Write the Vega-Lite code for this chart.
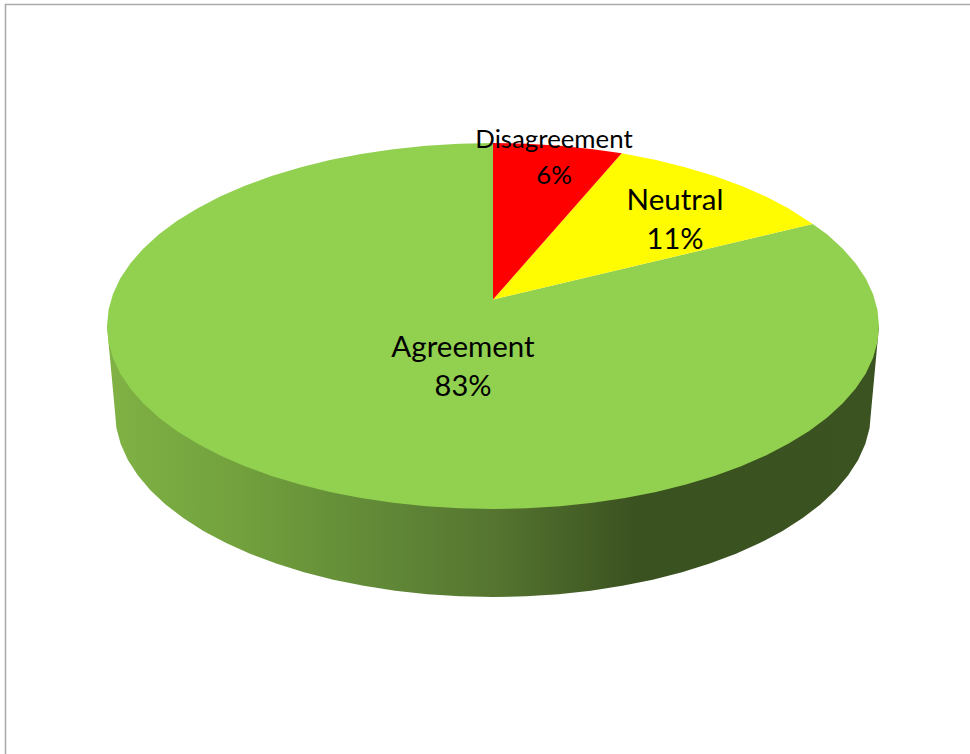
{
  "$schema": "https://vega.github.io/schema/vega-lite/v6.json",
  "width": 970,
  "height": 754,
  "padding": 0,
  "autosize": {"type": "none"},
  "background": "white",
  "config": {"view": {"stroke": null}},
  "datasets": {
    "slices": [
      {"slice": "Agreement", "share": 0.83, "cx": 463, "nameY": 357, "shareY": 396},
      {"slice": "Neutral", "share": 0.11, "cx": 675, "nameY": 210, "shareY": 249},
      {"slice": "Disagreement", "share": 0.06, "cx": 554, "nameY": 148, "shareY": 184}
    ],
    "outline": [
      {"part":"frame","seq":0,"x":5.5,"y":754},{"part":"frame","seq":1,"x":5.5,"y":4.5},{"part":"frame","seq":2,"x":970,"y":4.5},

      {"part":"side","seq":0,"x":107,"y":326},{"part":"side","seq":1,"x":115,"y":412},
      {"part":"side","seq":2,"x":116.4,"y":428.1},{"part":"side","seq":3,"x":120.7,"y":444.1},{"part":"side","seq":4,"x":127.9,"y":459.9},
      {"part":"side","seq":5,"x":137.8,"y":475.3},{"part":"side","seq":6,"x":150.4,"y":490.2},{"part":"side","seq":7,"x":165.6,"y":504.5},
      {"part":"side","seq":8,"x":183.3,"y":518.1},{"part":"side","seq":9,"x":203.4,"y":530.9},{"part":"side","seq":10,"x":225.7,"y":542.8},
      {"part":"side","seq":11,"x":250,"y":553.7},{"part":"side","seq":12,"x":276.2,"y":563.6},{"part":"side","seq":13,"x":304,"y":572.2},
      {"part":"side","seq":14,"x":333.3,"y":579.7},{"part":"side","seq":15,"x":363.7,"y":585.8},{"part":"side","seq":16,"x":395.2,"y":590.7},
      {"part":"side","seq":17,"x":427.4,"y":594.2},{"part":"side","seq":18,"x":460,"y":596.3},{"part":"side","seq":19,"x":493,"y":597},
      {"part":"side","seq":20,"x":526,"y":596.3},{"part":"side","seq":21,"x":558.6,"y":594.2},{"part":"side","seq":22,"x":590.8,"y":590.7},
      {"part":"side","seq":23,"x":622.3,"y":585.8},{"part":"side","seq":24,"x":652.7,"y":579.7},{"part":"side","seq":25,"x":682,"y":572.2},
      {"part":"side","seq":26,"x":709.8,"y":563.6},{"part":"side","seq":27,"x":736,"y":553.7},{"part":"side","seq":28,"x":760.3,"y":542.8},
      {"part":"side","seq":29,"x":782.6,"y":530.9},{"part":"side","seq":30,"x":802.7,"y":518.1},{"part":"side","seq":31,"x":820.4,"y":504.5},
      {"part":"side","seq":32,"x":835.6,"y":490.2},{"part":"side","seq":33,"x":848.2,"y":475.3},{"part":"side","seq":34,"x":858.1,"y":459.9},
      {"part":"side","seq":35,"x":865.3,"y":444.1},{"part":"side","seq":36,"x":869.6,"y":428.1},{"part":"side","seq":37,"x":871,"y":412},
      {"part":"side","seq":38,"x":879,"y":326},

      {"part":"Agreement","seq":0,"x":493,"y":299.5},{"part":"Agreement","seq":1,"x":812.7,"y":224},
      {"part":"Agreement","seq":2,"x":827.3,"y":234.5},{"part":"Agreement","seq":3,"x":842.8,"y":248.7},{"part":"Agreement","seq":4,"x":855.7,"y":263.4},
      {"part":"Agreement","seq":5,"x":865.8,"y":278.6},{"part":"Agreement","seq":6,"x":873.1,"y":294.2},{"part":"Agreement","seq":7,"x":877.5,"y":310},
      {"part":"Agreement","seq":8,"x":879,"y":326},{"part":"Agreement","seq":9,"x":877.5,"y":342},{"part":"Agreement","seq":10,"x":873.1,"y":357.8},
      {"part":"Agreement","seq":11,"x":865.8,"y":373.4},{"part":"Agreement","seq":12,"x":855.7,"y":388.6},{"part":"Agreement","seq":13,"x":842.8,"y":403.3},
      {"part":"Agreement","seq":14,"x":827.3,"y":417.5},{"part":"Agreement","seq":15,"x":809.2,"y":431},{"part":"Agreement","seq":16,"x":788.7,"y":443.6},
      {"part":"Agreement","seq":17,"x":765.9,"y":455.4},{"part":"Agreement","seq":18,"x":741.1,"y":466.2},{"part":"Agreement","seq":19,"x":714.4,"y":475.9},
      {"part":"Agreement","seq":20,"x":686,"y":484.5},{"part":"Agreement","seq":21,"x":656.1,"y":491.9},{"part":"Agreement","seq":22,"x":625,"y":498},
      {"part":"Agreement","seq":23,"x":592.9,"y":502.8},{"part":"Agreement","seq":24,"x":560,"y":506.2},{"part":"Agreement","seq":25,"x":526.7,"y":508.3},
      {"part":"Agreement","seq":26,"x":493,"y":509},{"part":"Agreement","seq":27,"x":459.3,"y":508.3},{"part":"Agreement","seq":28,"x":426,"y":506.2},
      {"part":"Agreement","seq":29,"x":393.1,"y":502.8},{"part":"Agreement","seq":30,"x":361,"y":498},{"part":"Agreement","seq":31,"x":329.9,"y":491.9},
      {"part":"Agreement","seq":32,"x":300,"y":484.5},{"part":"Agreement","seq":33,"x":271.6,"y":475.9},{"part":"Agreement","seq":34,"x":244.9,"y":466.2},
      {"part":"Agreement","seq":35,"x":220.1,"y":455.4},{"part":"Agreement","seq":36,"x":197.3,"y":443.6},{"part":"Agreement","seq":37,"x":176.8,"y":431},
      {"part":"Agreement","seq":38,"x":158.7,"y":417.5},{"part":"Agreement","seq":39,"x":143.2,"y":403.3},{"part":"Agreement","seq":40,"x":130.3,"y":388.6},
      {"part":"Agreement","seq":41,"x":120.2,"y":373.4},{"part":"Agreement","seq":42,"x":112.9,"y":357.8},{"part":"Agreement","seq":43,"x":108.5,"y":342},
      {"part":"Agreement","seq":44,"x":107,"y":326},{"part":"Agreement","seq":45,"x":108.5,"y":310},{"part":"Agreement","seq":46,"x":112.9,"y":294.2},
      {"part":"Agreement","seq":47,"x":120.2,"y":278.6},{"part":"Agreement","seq":48,"x":130.3,"y":263.4},{"part":"Agreement","seq":49,"x":143.2,"y":248.7},
      {"part":"Agreement","seq":50,"x":158.7,"y":234.5},{"part":"Agreement","seq":51,"x":176.8,"y":221},{"part":"Agreement","seq":52,"x":197.3,"y":208.4},
      {"part":"Agreement","seq":53,"x":220.1,"y":196.6},{"part":"Agreement","seq":54,"x":244.9,"y":185.8},{"part":"Agreement","seq":55,"x":271.6,"y":176.1},
      {"part":"Agreement","seq":56,"x":300,"y":167.5},{"part":"Agreement","seq":57,"x":329.9,"y":160.1},{"part":"Agreement","seq":58,"x":361,"y":154},
      {"part":"Agreement","seq":59,"x":393.1,"y":149.2},{"part":"Agreement","seq":60,"x":426,"y":145.8},{"part":"Agreement","seq":61,"x":459.3,"y":143.7},
      {"part":"Agreement","seq":62,"x":493,"y":143},

      {"part":"Neutral","seq":0,"x":493,"y":299.5},{"part":"Neutral","seq":1,"x":621.7,"y":153.3},{"part":"Neutral","seq":2,"x":656.1,"y":160.1},
      {"part":"Neutral","seq":3,"x":686,"y":167.5},{"part":"Neutral","seq":4,"x":714.4,"y":176.1},{"part":"Neutral","seq":5,"x":741.1,"y":185.8},
      {"part":"Neutral","seq":6,"x":765.9,"y":196.6},{"part":"Neutral","seq":7,"x":788.7,"y":208.4},{"part":"Neutral","seq":8,"x":812.7,"y":224},

      {"part":"Disagreement","seq":0,"x":493,"y":299.5},{"part":"Disagreement","seq":1,"x":493,"y":143},{"part":"Disagreement","seq":2,"x":526.7,"y":143.7},
      {"part":"Disagreement","seq":3,"x":560,"y":145.8},{"part":"Disagreement","seq":4,"x":592.9,"y":149.2},{"part":"Disagreement","seq":5,"x":621.7,"y":153.3}
    ]
  },
  "encoding": {
    "x": {"field": "x", "type": "quantitative", "scale": {"domain": [0, 970], "nice": false, "zero": false}, "axis": null},
    "y": {"field": "y", "type": "quantitative", "scale": {"domain": [754, 0], "nice": false, "zero": false}, "axis": null},
    "order": {"field": "seq", "type": "quantitative"}
  },
  "layer": [
    {
      "data": {"name": "outline"},
      "transform": [{"filter": "datum.part === 'frame'"}],
      "mark": {"type": "line", "stroke": "#ABABAB", "strokeWidth": 1.6, "fill": null}
    },
    {
      "data": {"name": "outline"},
      "transform": [{"filter": "datum.part === 'side'"}],
      "mark": {
        "type": "line",
        "strokeWidth": 0,
        "stroke": null,
        "interpolate": "linear-closed",
        "fill": {
          "gradient": "linear", "x1": 0, "x2": 1, "y1": 0, "y2": 0,
          "stops": [
            {"offset": 0, "color": "#80B245"},
            {"offset": 0.17, "color": "#72A13D"},
            {"offset": 0.38, "color": "#5F8536"},
            {"offset": 0.5, "color": "#557530"},
            {"offset": 0.69, "color": "#3A5120"},
            {"offset": 1, "color": "#3B5321"}
          ]
        }
      }
    },
    {
      "data": {"name": "outline"},
      "transform": [{"filter": "datum.part === 'Agreement'"}],
      "mark": {"type": "line", "strokeWidth": 0, "stroke": null, "interpolate": "linear-closed", "fill": "#92D050"}
    },
    {
      "data": {"name": "outline"},
      "transform": [{"filter": "datum.part === 'Neutral'"}],
      "mark": {"type": "line", "strokeWidth": 0, "stroke": null, "interpolate": "linear-closed", "fill": "#FFFB00"}
    },
    {
      "data": {"name": "outline"},
      "transform": [{"filter": "datum.part === 'Disagreement'"}],
      "mark": {"type": "line", "strokeWidth": 0, "stroke": null, "interpolate": "linear-closed", "fill": "#FF0000"}
    },
    {
      "data": {"name": "slices"},
      "transform": [{"filter": "datum.slice !== 'Disagreement'"}],
      "mark": {"type": "text", "font": "Lato", "fontSize": 29.5, "color": "#000000", "align": "center", "baseline": "alphabetic"},
      "encoding": {
        "x": {"field": "cx", "type": "quantitative"},
        "y": {"field": "nameY", "type": "quantitative"},
        "order": null,
        "text": {"field": "slice", "type": "nominal"}
      }
    },
    {
      "data": {"name": "slices"},
      "transform": [{"filter": "datum.slice === 'Disagreement'"}],
      "mark": {"type": "text", "font": "Lato", "fontSize": 25.8, "color": "#000000", "align": "center", "baseline": "alphabetic"},
      "encoding": {
        "x": {"field": "cx", "type": "quantitative"},
        "y": {"field": "nameY", "type": "quantitative"},
        "order": null,
        "text": {"field": "slice", "type": "nominal"}
      }
    },
    {
      "data": {"name": "slices"},
      "transform": [{"filter": "datum.slice !== 'Disagreement'"}],
      "mark": {"type": "text", "font": "Lato", "fontSize": 29, "color": "#000000", "align": "center", "baseline": "alphabetic"},
      "encoding": {
        "x": {"field": "cx", "type": "quantitative"},
        "y": {"field": "shareY", "type": "quantitative"},
        "order": null,
        "text": {"field": "share", "type": "quantitative", "format": ".0%"}
      }
    },
    {
      "data": {"name": "slices"},
      "transform": [{"filter": "datum.slice === 'Disagreement'"}],
      "mark": {"type": "text", "font": "Lato", "fontSize": 25.8, "color": "#000000", "align": "center", "baseline": "alphabetic"},
      "encoding": {
        "x": {"field": "cx", "type": "quantitative"},
        "y": {"field": "shareY", "type": "quantitative"},
        "order": null,
        "text": {"field": "share", "type": "quantitative", "format": ".0%"}
      }
    }
  ]
}
